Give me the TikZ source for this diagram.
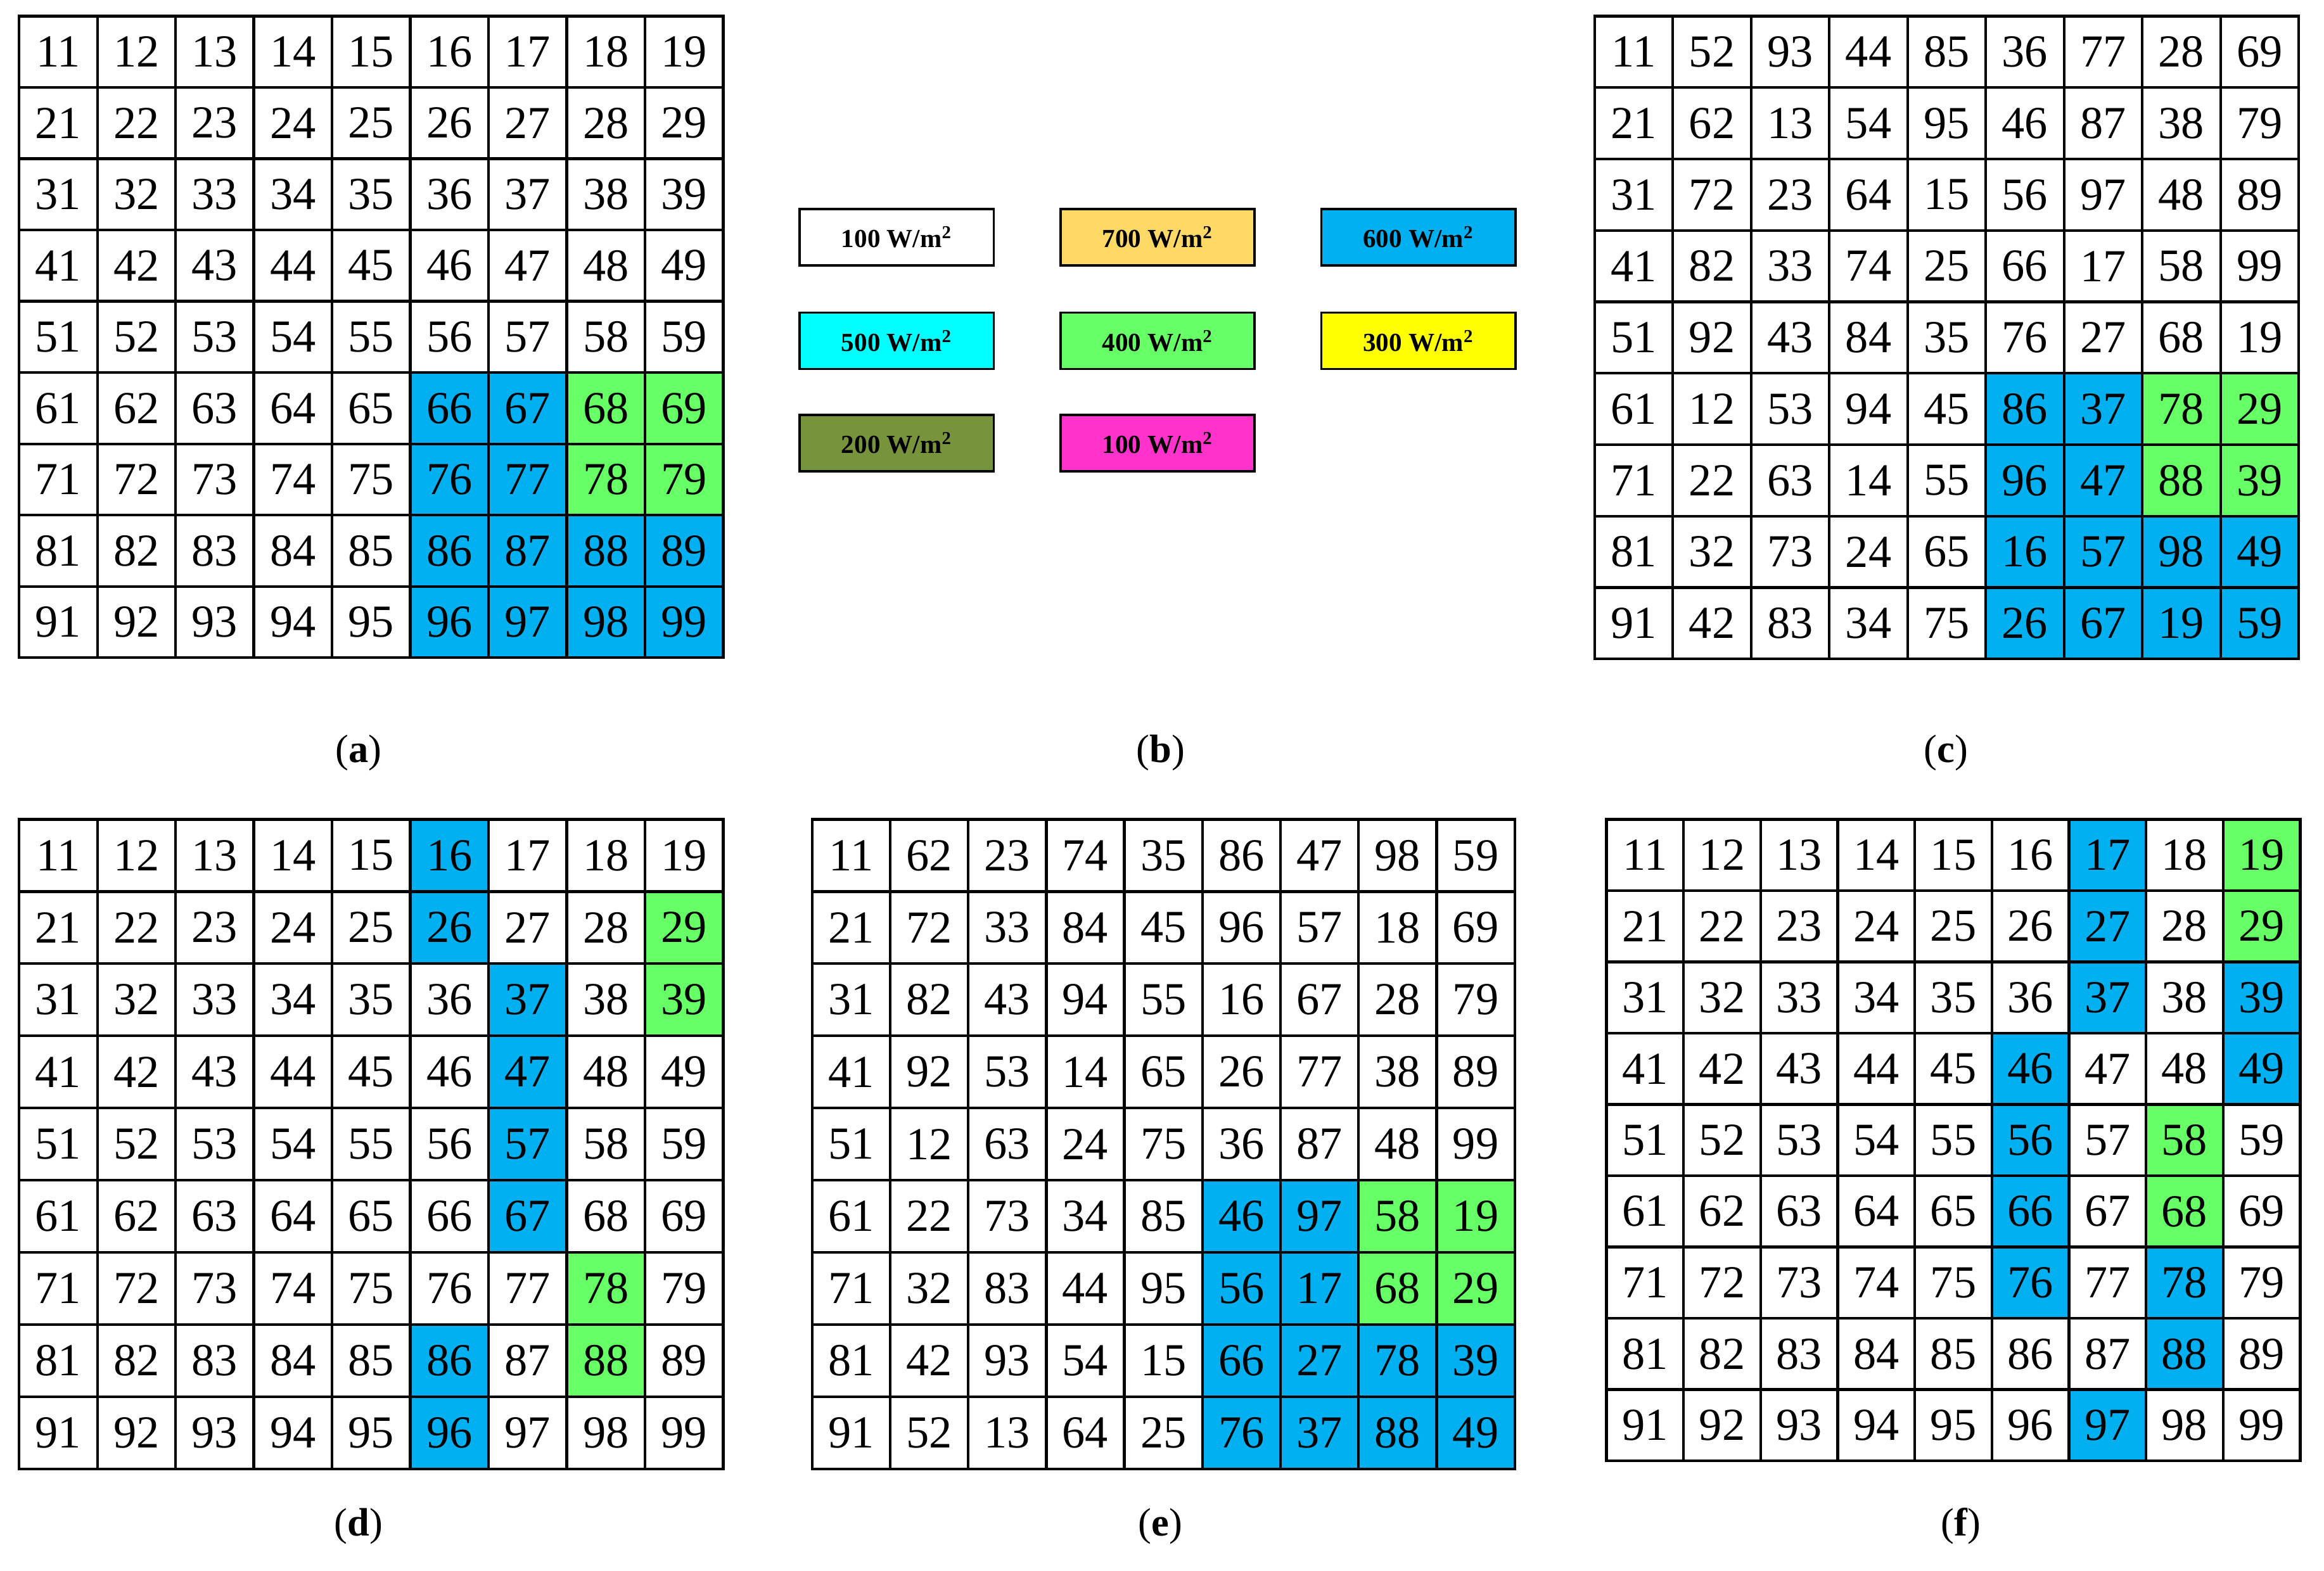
\documentclass[tikz,border=0pt]{standalone}
\usepackage{fontspec}
\setmainfont{Liberation Serif}
\definecolor{cw}{HTML}{FFFFFF}
\definecolor{cb}{HTML}{00B0F0}
\definecolor{cg}{HTML}{66FF66}
\definecolor{corange}{HTML}{FFD966}
\definecolor{ccyan}{HTML}{00FFFF}
\definecolor{cyel}{HTML}{FFFF00}
\definecolor{colive}{HTML}{77933C}
\definecolor{cmag}{HTML}{FF33CC}
\tikzset{cell/.style={draw,line width=1.3pt,inner sep=0pt,anchor=north west,font=\fontsize{22}{22}\selectfont},
leg/.style={draw,line width=1.1pt,minimum width=3.275cm,minimum height=0.95cm,inner sep=0pt,font=\fontsize{12.5}{13}\selectfont\bfseries},
lab/.style={font=\fontsize{19}{20}\selectfont}}
\newcommand{\mygrid}[6]{%
 \foreach \n/\c [count=\i from 0] in {#6}{%
  \pgfmathtruncatemacro{\cc}{mod(\i,9)}\pgfmathtruncatemacro{\rr}{\i/9}%
  \node[cell,fill=c\c,minimum width=#4*0.025cm,minimum height=#5*0.025cm] (#1-\i) at (#2+\cc*#4,#3+\rr*#5) {\n};}}
\begin{document}
\begin{tikzpicture}[x=0.025cm,y=-0.025cm]
\useasboundingbox (0,0) rectangle (1568,1060);
\mygrid{a}{12}{10}{52.78}{48.1}{11/w,12/w,13/w,14/w,15/w,16/w,17/w,18/w,19/w,21/w,22/w,23/w,24/w,25/w,26/w,27/w,28/w,29/w,31/w,32/w,33/w,34/w,35/w,36/w,37/w,38/w,39/w,41/w,42/w,43/w,44/w,45/w,46/w,47/w,48/w,49/w,51/w,52/w,53/w,54/w,55/w,56/w,57/w,58/w,59/w,61/w,62/w,63/w,64/w,65/w,66/b,67/b,68/g,69/g,71/w,72/w,73/w,74/w,75/w,76/b,77/b,78/g,79/g,81/w,82/w,83/w,84/w,85/w,86/b,87/b,88/b,89/b,91/w,92/w,93/w,94/w,95/w,96/b,97/b,98/b,99/b}
\mygrid{c}{1075}{10}{52.78}{48.2}{11/w,52/w,93/w,44/w,85/w,36/w,77/w,28/w,69/w,21/w,62/w,13/w,54/w,95/w,46/w,87/w,38/w,79/w,31/w,72/w,23/w,64/w,15/w,56/w,97/w,48/w,89/w,41/w,82/w,33/w,74/w,25/w,66/w,17/w,58/w,99/w,51/w,92/w,43/w,84/w,35/w,76/w,27/w,68/w,19/w,61/w,12/w,53/w,94/w,45/w,86/b,37/b,78/g,29/g,71/w,22/w,63/w,14/w,55/w,96/b,47/b,88/g,39/g,81/w,32/w,73/w,24/w,65/w,16/b,57/b,98/b,49/b,91/w,42/w,83/w,34/w,75/w,26/b,67/b,19/b,59/b}
\mygrid{d}{12}{552}{52.78}{48.7}{11/w,12/w,13/w,14/w,15/w,16/b,17/w,18/w,19/w,21/w,22/w,23/w,24/w,25/w,26/b,27/w,28/w,29/g,31/w,32/w,33/w,34/w,35/w,36/w,37/b,38/w,39/g,41/w,42/w,43/w,44/w,45/w,46/w,47/b,48/w,49/w,51/w,52/w,53/w,54/w,55/w,56/w,57/b,58/w,59/w,61/w,62/w,63/w,64/w,65/w,66/w,67/b,68/w,69/w,71/w,72/w,73/w,74/w,75/w,76/w,77/w,78/g,79/w,81/w,82/w,83/w,84/w,85/w,86/b,87/w,88/g,89/w,91/w,92/w,93/w,94/w,95/w,96/b,97/w,98/w,99/w}
\mygrid{e}{547}{552}{52.67}{48.7}{11/w,62/w,23/w,74/w,35/w,86/w,47/w,98/w,59/w,21/w,72/w,33/w,84/w,45/w,96/w,57/w,18/w,69/w,31/w,82/w,43/w,94/w,55/w,16/w,67/w,28/w,79/w,41/w,92/w,53/w,14/w,65/w,26/w,77/w,38/w,89/w,51/w,12/w,63/w,24/w,75/w,36/w,87/w,48/w,99/w,61/w,22/w,73/w,34/w,85/w,46/b,97/b,58/g,19/g,71/w,32/w,83/w,44/w,95/w,56/b,17/b,68/g,29/g,81/w,42/w,93/w,54/w,15/w,66/b,27/b,78/b,39/b,91/w,52/w,13/w,64/w,25/w,76/b,37/b,88/b,49/b}
\mygrid{f}{1083}{552}{52}{48.1}{11/w,12/w,13/w,14/w,15/w,16/w,17/b,18/w,19/g,21/w,22/w,23/w,24/w,25/w,26/w,27/b,28/w,29/g,31/w,32/w,33/w,34/w,35/w,36/w,37/b,38/w,39/b,41/w,42/w,43/w,44/w,45/w,46/b,47/w,48/w,49/b,51/w,52/w,53/w,54/w,55/w,56/b,57/w,58/g,59/w,61/w,62/w,63/w,64/w,65/w,66/b,67/w,68/g,69/w,71/w,72/w,73/w,74/w,75/w,76/b,77/w,78/b,79/w,81/w,82/w,83/w,84/w,85/w,86/w,87/w,88/b,89/w,91/w,92/w,93/w,94/w,95/w,96/w,97/b,98/w,99/w}
% legend
\node[leg,fill=white] (l1) at (605,160) {100 W/m\textsuperscript{2}};
\node[leg,fill=corange] (l2) at (781,160) {700 W/m\textsuperscript{2}};
\node[leg,fill=cb] (l3) at (957,160) {600 W/m\textsuperscript{2}};
\node[leg,fill=ccyan] (l4) at (605,230) {500 W/m\textsuperscript{2}};
\node[leg,fill=cg] (l5) at (781,230) {400 W/m\textsuperscript{2}};
\node[leg,fill=cyel] (l6) at (957,230) {300 W/m\textsuperscript{2}};
\node[leg,fill=colive] (l7) at (605,299) {200 W/m\textsuperscript{2}};
\node[leg,fill=cmag] (l8) at (781,299) {100 W/m\textsuperscript{2}};
% labels
\node[lab] (ta) at (242,508) {(\textbf{a})};
\node[lab] (tb) at (783,508) {(\textbf{b})};
\node[lab] (tc) at (1313,508) {(\textbf{c})};
\node[lab] (td) at (242,1030) {(\textbf{d})};
\node[lab] (te) at (783,1030) {(\textbf{e})};
\node[lab] (tf) at (1323,1030) {(\textbf{f})};
\end{tikzpicture}
\end{document}
